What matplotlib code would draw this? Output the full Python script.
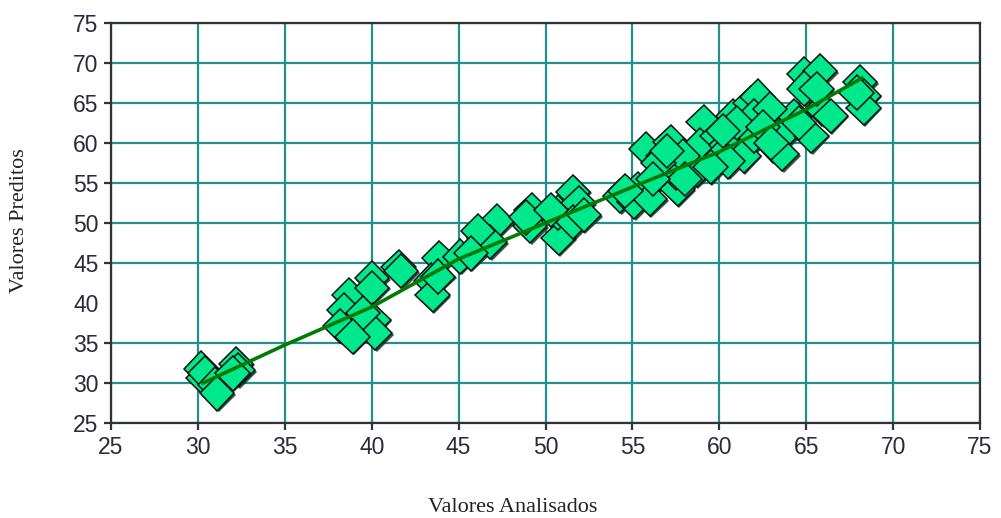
import matplotlib
matplotlib.use("Agg")
import matplotlib.pyplot as plt
import matplotlib.patheffects as pe

# Observed (x) vs predicted (y) values
analisados = [30.2, 30.3, 30.4, 31.0, 31.1, 32.2, 32.3, 32.0,
              38.7, 40.0, 40.0, 38.4, 38.8, 40.1, 40.2, 39.5, 38.2, 38.9,
              41.55, 41.7, 43.9, 43.4, 43.5, 43.8,
              45.1, 46.45, 47.2, 46.8, 46.1, 45.7, 49.2, 49.1, 48.9, 50.75,
              50.7, 51.6, 51.9, 51.6, 50.3, 52.2,
              54.3, 55.3, 55.1, 55.8, 56.0, 56.8, 57.2, 57.6, 57.5, 58.7,
              59.1, 58.9, 59.9, 60.4, 60.8, 61.4, 61.8, 62.0, 60.1, 57.9,
              64.9, 65.8, 64.9, 62.2, 62.0, 63.9, 65.3, 65.9, 63.1, 64.3,
              62.9, 68.1, 68.3, 68.3, 67.9, 66.4, 65.6, 63.6, 60.5, 54.6,
              56.5, 58.0, 59.5, 61.0, 60.2, 62.5, 63.0, 56.2, 57.0, 64.6]
preditos = [31.8, 30.6, 31.2, 29.8, 28.7, 32.4, 31.6, 31.2,
            41.0, 43.1, 41.9, 39.1, 37.1, 37.9, 36.25, 38.75, 37.1, 35.8,
            44.5, 44.0, 45.6, 42.8, 41.0, 43.3,
            45.8, 48.1, 50.2, 47.6, 49.0, 46.2, 51.6, 49.6, 50.7, 48.1,
            51.3, 53.9, 52.5, 50.1, 51.6, 51.0,
            53.4, 54.25, 52.6, 59.25, 53.0, 58.4, 60.1, 54.25, 56.3, 56.6,
            62.6, 59.7, 60.9, 59.7, 63.4, 58.4, 65.0, 60.9, 58.4, 58.4,
            68.6, 69.0, 66.8, 65.8, 63.4, 61.6, 60.9, 64.25, 59.7, 63.4,
            64.25, 67.6, 65.9, 64.4, 66.3, 63.4, 66.75, 58.6, 57.7, 54.0,
            57.5, 55.5, 57.0, 62.5, 61.5, 62.0, 60.0, 55.5, 59.0, 62.5]

# Fitted curve
ajuste_x = [30.3, 35.0, 40.0, 45.0, 50.0, 55.0, 60.0, 65.0, 68.2]
ajuste_y = [30.0, 34.75, 39.5, 45.5, 50.0, 54.5, 58.9, 64.2, 68.1]

xticks = [25, 30, 35, 40, 45, 50, 55, 60, 65, 70, 75]
yticks = [25, 30, 35, 40, 45, 50, 55, 60, 65, 70, 75]

fig = plt.figure(figsize=(10.01, 5.18), dpi=100)
ax = fig.add_axes([111/1001, 1 - 423/518, (980 - 111)/1001, 400/518])

grid_color = "#23908f"
ax.set_xlim(25, 75)
ax.set_ylim(25, 75)
ax.set_xticks(xticks)
ax.set_yticks(yticks)
ax.grid(True, color=grid_color, linewidth=1.6, zorder=0)
ax.set_axisbelow(True)

# hidden gridline / tick at 40 on y
idx40 = yticks.index(40)
ax.get_ygridlines()[idx40].set_visible(False)
ax.yaxis.get_major_ticks()[idx40].tick1line.set_visible(False)

ax.plot(analisados, preditos, linestyle="none", marker="D", markersize=17.5,
        markerfacecolor="#00e88c", markeredgecolor="#111111", markeredgewidth=1.1,
        zorder=3,
        path_effects=[pe.SimplePatchShadow(offset=(1.2, -1.2), shadow_rgbFace="#0a3a20", alpha=0.85),
                      pe.Normal()])
ax.plot(ajuste_x, ajuste_y, color="#037a03", linewidth=2.6, zorder=4)

for s in ax.spines.values():
    s.set_color("#333333")
    s.set_linewidth(1.6)

ax.tick_params(axis="both", direction="out", length=5, width=1.6, color="#333333",
               labelsize=16.5, labelcolor="#2a2a3a", pad=4)
for lab in ax.get_xticklabels() + ax.get_yticklabels():
    lab.set_family("Liberation Sans")

fig.text(513/1001, 1 - 508/518, "Valores Analisados", ha="center", va="center",
         family="Liberation Serif", fontsize=16, color="#222222")
fig.text(20/1001, 1 - 221/518, "Valores Preditos", ha="center", va="center",
         rotation=90, family="Liberation Serif", fontsize=16, color="#222222")

fig.savefig("out.png", dpi=100)
